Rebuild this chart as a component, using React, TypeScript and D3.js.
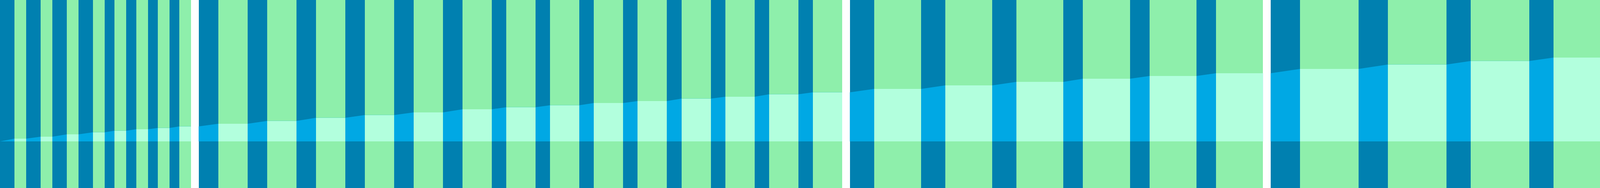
import React, { useEffect, useRef } from 'react';
import * as d3 from 'd3';

const WIDTH = 5083;
const HEIGHT = 480;
const BASELINE = 361;
const PANEL_GAP = 19.6;

// per panel: ramp lengths (first `rampLongCount` ramps are long), hold length
const rampLong = [37, 50, 62, 75, 37];
const rampShort = [25.2, 37.1, 50, 62, 25];
const rampLongCount = [4, 6, 3, 2, 2];
const holdSpan = [30, 75, 120.2, 150, 150];

// level held during each hold, per panel
const levels1 = [7, 12, 18, 23.3, 27.3, 31, 34.3, 38.3];
const levels2 = [45, 52.3, 60.3, 67.3, 74, 82, 87.3, 92.3, 98, 103, 109.3, 114, 120.3, 125.3];
const levels3 = [134, 143, 152, 160, 167, 174];
const levels4 = [185, 196.3, 205.3, 214, 222.7];
const levels5 = [229.3, 234.3, 238.3, 242];
const panelLevels = [levels1, levels2, levels3, levels4, levels5];

const COLORS = {
  ramp: '#0080b0',
  hold: '#8eefab',
  rampArea: '#00a8e4',
  holdArea: '#b2ffdd',
};

type Seg = { kind: 'ramp' | 'hold'; t0: number; t1: number; from: number; to: number };
type Pt = { t: number; v: number };

const App: React.FC = () => {
  const svgRef = useRef<SVGSVGElement | null>(null);

  useEffect(() => {
    const segs: Seg[] = [];
    const gaps: [number, number][] = [];
    let t = 0;
    let prev = 0;
    panelLevels.forEach((lv, p) => {
      if (p > 0) {
        gaps.push([t, t + PANEL_GAP]);
        t += PANEL_GAP;
      }
      lv.forEach((v, i) => {
        const r = i < rampLongCount[p] ? rampLong[p] : rampShort[p];
        segs.push({ kind: 'ramp', t0: t, t1: t + r, from: prev, to: v });
        t += r;
        segs.push({ kind: 'hold', t0: t, t1: t + holdSpan[p], from: v, to: v });
        t += holdSpan[p];
        prev = v;
      });
    });

    const pts: Pt[] = [];
    segs.forEach((s) => {
      pts.push({ t: s.t0, v: s.from });
      pts.push({ t: s.t1, v: s.to });
    });

    const x = d3.scaleLinear().domain([0, t]).range([0, WIDTH]);
    const y = d3.scaleLinear().domain([0, 360]).range([BASELINE, BASELINE - 360]);

    const svg = d3.select(svgRef.current);
    svg.selectAll('*').remove();

    svg
      .append('g')
      .selectAll('rect')
      .data(segs)
      .enter()
      .append('rect')
      .attr('x', (d) => x(d.t0))
      .attr('y', 0)
      .attr('width', (d) => x(d.t1) - x(d.t0))
      .attr('height', HEIGHT)
      .attr('fill', (d) => (d.kind === 'ramp' ? COLORS.ramp : COLORS.hold))
      .attr('shape-rendering', 'crispEdges');

    const area = d3
      .area<Pt>()
      .x((d) => x(d.t))
      .y0(y(0))
      .y1((d) => y(d.v));

    svg.append('path').datum(pts).attr('d', area).attr('fill', COLORS.rampArea);

    svg
      .append('g')
      .selectAll('rect')
      .data(segs.filter((s) => s.kind === 'hold'))
      .enter()
      .append('rect')
      .attr('x', (d) => x(d.t0))
      .attr('y', (d) => y(d.to))
      .attr('width', (d) => x(d.t1) - x(d.t0))
      .attr('height', (d) => y(0) - y(d.to))
      .attr('fill', COLORS.holdArea)
      .attr('shape-rendering', 'crispEdges');

    svg
      .append('g')
      .selectAll('rect')
      .data(gaps)
      .enter()
      .append('rect')
      .attr('x', (d) => x(d[0]))
      .attr('y', 0)
      .attr('width', (d) => x(d[1]) - x(d[0]))
      .attr('height', HEIGHT)
      .attr('fill', '#fff');
  }, []);

  return (
    <svg
      ref={svgRef}
      width={WIDTH}
      height={HEIGHT}
      style={{ position: 'absolute', left: 0, top: 0, display: 'block' }}
    />
  );
};

export default App;
